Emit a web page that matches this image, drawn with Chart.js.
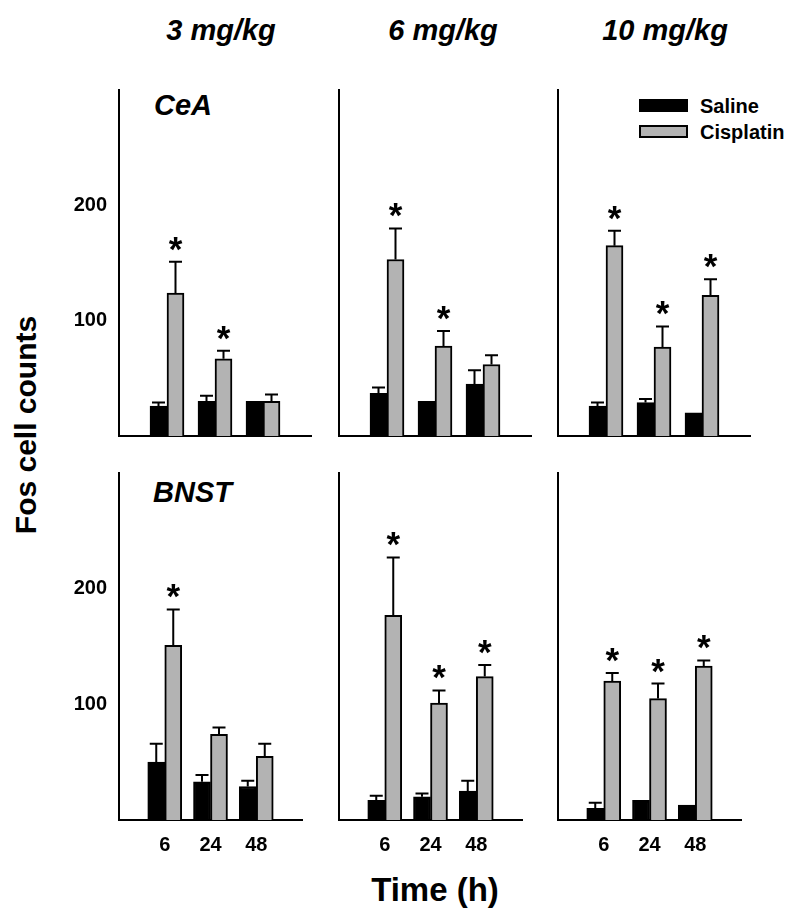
<!DOCTYPE html>
<html>
<head>
<meta charset="utf-8">
<script src="https://cdn.jsdelivr.net/npm/chart.js@4.4.0/dist/chart.umd.min.js"></script>
<style>
  body { margin: 0; background: #fff; width: 800px; height: 915px; position: relative; overflow: hidden;
         font-family: "Liberation Sans", Arial, sans-serif; color: #000; }
  .lbl { position: absolute; font-weight: bold; white-space: nowrap; line-height: 1; }
  .dose { font-size: 29px; font-style: italic; transform: translate(-50%, -50%); }
  .region { font-size: 29px; font-style: italic; transform: translateY(-50%); }
  .key { position: absolute; width: 49px; height: 13px; box-sizing: border-box; border: 2px solid #000; }
  .keytxt { font-size: 20px; transform: translateY(-50%); }
  canvas { position: absolute; }
</style>
</head>
<body>
<div class="lbl dose" style="left:221px;top:30px">3 mg/kg</div>
<div class="lbl dose" style="left:443px;top:30px">6 mg/kg</div>
<div class="lbl dose" style="left:665px;top:30px">10 mg/kg</div>
<div class="lbl region" style="left:154px;top:105px">CeA</div>
<div class="lbl region" style="left:153px;top:492px">BNST</div>
<div class="lbl" style="left:26px;top:425px;font-size:30px;transform:translate(-50%,-50%) rotate(-90deg)">Fos cell counts</div>
<div class="lbl" style="left:435px;top:889px;font-size:33px;transform:translate(-50%,-50%)">Time (h)</div>
<div class="key" style="left:639px;top:99px;background:#000"></div>
<div class="key" style="left:639px;top:125px;background:#b3b3b3"></div>
<div class="lbl keytxt" style="left:700px;top:106px">Saline</div>
<div class="lbl keytxt" style="left:700px;top:132px">Cisplatin</div>

<script>
// time points (h) and panel headings
const times = ['6', '24', '48'];
const doses = ['3 mg/kg', '6 mg/kg', '10 mg/kg'];
const regions = ['CeA', 'BNST'];

// CeA: one inner array per dose, values at 6/24/48 h
const ceaSaline    = [[26, 30, 30], [37, 30, 45], [26, 29, 20]];
const ceaSalineSem = [[3, 5, 0],    [5, 0, 12],   [3, 3, 0]];
const ceaCis       = [[124, 67, 30], [153, 78, 62], [165, 77, 122]];
const ceaCisSem    = [[27, 7, 6],    [27, 13, 8],   [13, 18, 14]];
const ceaSig       = [[1, 1, 0], [1, 1, 0], [1, 1, 1]];

// BNST
const bnstSaline    = [[50, 33, 29], [17, 20, 25], [10, 17, 13]];
const bnstSalineSem = [[16, 6, 5],   [4, 3, 9],    [5, 0, 0]];
const bnstCis       = [[151, 74, 55], [177, 101, 124], [120, 105, 133]];
const bnstCisSem    = [[31, 6, 11],   [50, 11, 10],    [7, 13, 5]];
const bnstSig       = [[1, 0, 0], [1, 1, 1], [1, 1, 1]];

const yTicks = [100, 200];

// layout
const axisLeft = [119, 339, 558];
const axisTop = [80, 463];
const axisBottom = [436, 820];
const plotW = 192;
const yAxisW = 50, xAxisH = 40, padTop = 14, padRight = 4;
const FONT = '"Liberation Sans", Arial, sans-serif';

const errorBars = {
  id: 'errorBars',
  afterDatasetsDraw(chart) {
    const ctx = chart.ctx;
    const y = chart.scales.y;
    ctx.save();
    ctx.strokeStyle = '#000';
    ctx.fillStyle = '#000';
    ctx.lineWidth = 2;
    ctx.font = 'bold 35px ' + FONT;
    ctx.textAlign = 'center';
    ctx.textBaseline = 'alphabetic';
    chart.data.datasets.forEach((ds, di) => {
      const meta = chart.getDatasetMeta(di);
      meta.data.forEach((bar, i) => {
        const v = ds.data[i];
        if (v == null) return;
        const e = ds.sem[i] || 0;
        const top = y.getPixelForValue(v + e);
        if (e > 0) {
          ctx.beginPath();
          ctx.moveTo(bar.x, bar.y);
          ctx.lineTo(bar.x, top);
          ctx.moveTo(bar.x - 6.5, top);
          ctx.lineTo(bar.x + 6.5, top);
          ctx.stroke();
        }
        if (ds.sig && ds.sig[i]) {
          ctx.fillText('*', bar.x, top - 1);
        }
      });
    });
    ctx.restore();
  }
};

function pad(arr) { return [null, ...arr, null]; }

function makePanel(r, c) {
  const sal = r === 0 ? ceaSaline[c] : bnstSaline[c];
  const salSem = r === 0 ? ceaSalineSem[c] : bnstSalineSem[c];
  const cis = r === 0 ? ceaCis[c] : bnstCis[c];
  const cisSem = r === 0 ? ceaCisSem[c] : bnstCisSem[c];
  const sig = r === 0 ? ceaSig[c] : bnstSig[c];

  const cv = document.createElement('canvas');
  cv.width = yAxisW + plotW + padRight;
  cv.height = padTop + (axisBottom[r] - axisTop[r]) + xAxisH;
  cv.style.left = (axisLeft[c] - yAxisW) + 'px';
  cv.style.top = (axisTop[r] - padTop) + 'px';
  document.body.appendChild(cv);

  new Chart(cv, {
    type: 'bar',
    data: {
      labels: pad(times).map(t => t || ''),
      datasets: [
        { label: 'Saline', data: pad(sal), sem: pad(salSem),
          backgroundColor: '#000', borderColor: '#000', borderWidth: 2 },
        { label: 'Cisplatin', data: pad(cis), sem: pad(cisSem), sig: pad(sig),
          backgroundColor: '#b3b3b3', borderColor: '#000', borderWidth: 2 }
      ]
    },
    options: {
      responsive: false,
      animation: false,
      layout: { padding: { top: padTop, right: padRight, left: 0, bottom: 0 } },
      datasets: { bar: { barThickness: 17 } },
      plugins: { legend: { display: false }, tooltip: { enabled: false } },
      scales: {
        x: {
          offset: false,
          grid: { display: false, drawTicks: false },
          border: { display: true, color: '#000', width: 2 },
          ticks: { display: r === 1, color: '#000', padding: 13, autoSkip: false, maxRotation: 0,
                   font: { family: FONT, size: 20, weight: 'bold' } },
          afterFit(s) { s.height = xAxisH; }
        },
        y: {
          min: 0, max: 300,
          grid: { display: false, drawTicks: false },
          border: { display: true, color: '#000', width: 2 },
          ticks: { stepSize: 100, padding: 12, color: '#000',
                   font: { family: FONT, size: 20, weight: 'bold' },
                   callback: v => (c === 0 && yTicks.includes(v)) ? String(v) : '' },
          afterFit(s) { s.width = yAxisW; }
        }
      }
    },
    plugins: [errorBars]
  });
}

for (let r = 0; r < regions.length; r++) {
  for (let c = 0; c < doses.length; c++) makePanel(r, c);
}
</script>
</body>
</html>
